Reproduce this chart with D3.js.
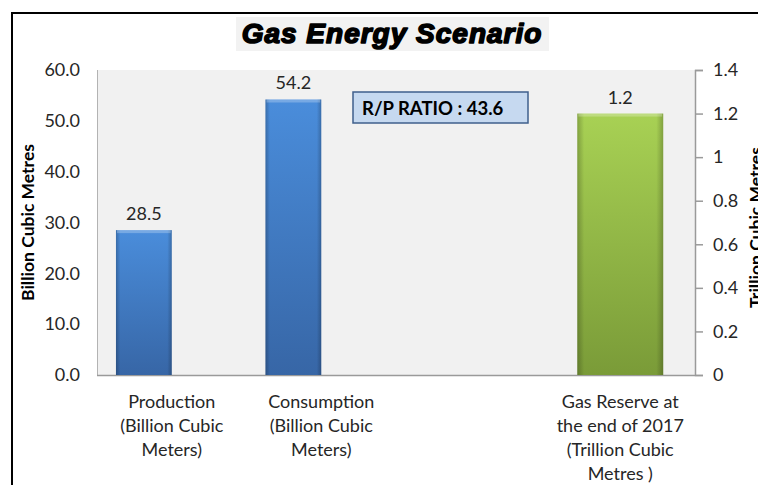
<!DOCTYPE html>
<html>
<head>
<meta charset="utf-8">
<script src="https://cdn.jsdelivr.net/npm/d3@7"></script>
<style>
  html, body { margin: 0; padding: 0; background: #fff; }
  svg { display: block; font-family: Lato, 'Open Sans', sans-serif; }
</style>
</head>
<body>
<div id="chart"></div>
<script>
// data
const categories = ['Production', 'Consumption', 'blank', 'Reserve'];
const categoryLabels = [
  ['Production', '(Billion Cubic', 'Meters)'],
  ['Consumption', '(Billion Cubic', 'Meters)'],
  [],
  ['Gas Reserve at', 'the end of 2017', '(Trillion Cubic', 'Metres )']
];
const primaryValues = [
  { category: 'Production', value: 28.5 },
  { category: 'Consumption', value: 54.2 }
];
const secondaryValues = [
  { category: 'Reserve', value: 1.2 }
];
const leftTicks = [0, 10, 20, 30, 40, 50, 60];
const rightTicks = [0, 0.2, 0.4, 0.6, 0.8, 1, 1.2, 1.4];
const ratioText = 'R/P RATIO : 43.6';

const W = 758, H = 485;
const PLOT = { left: 97, right: 695, top: 70, bottom: 375 };

const svg = d3.select('#chart').append('svg')
  .attr('width', W).attr('height', H);

const defs = svg.append('defs');
function barGradient(id, top, bottom) {
  const g = defs.append('linearGradient').attr('id', id)
    .attr('x1', 0).attr('y1', 0).attr('x2', 0).attr('y2', 1);
  g.append('stop').attr('offset', '0%').attr('stop-color', top);
  g.append('stop').attr('offset', '100%').attr('stop-color', bottom);
}
barGradient('blueGrad', '#4a8ddb', '#3766a6');
barGradient('greenGrad', '#a8d154', '#7a9b38');
// side shading for the bevelled look
const side = defs.append('linearGradient').attr('id', 'sideShade')
  .attr('x1', 0).attr('y1', 0).attr('x2', 1).attr('y2', 0);
side.append('stop').attr('offset', '0%').attr('stop-color', '#000').attr('stop-opacity', 0.22);
side.append('stop').attr('offset', '8%').attr('stop-color', '#000').attr('stop-opacity', 0);
side.append('stop').attr('offset', '92%').attr('stop-color', '#000').attr('stop-opacity', 0);
side.append('stop').attr('offset', '100%').attr('stop-color', '#000').attr('stop-opacity', 0.22);

// outer frame
svg.append('path')
  .attr('d', `M12,${H} L12,13 L${W},13`)
  .attr('fill', 'none').attr('stroke', '#000').attr('stroke-width', 2);

// title
svg.append('rect').attr('x', 236).attr('y', 17).attr('width', 313).attr('height', 34)
  .attr('fill', '#f2f2f2');
svg.append('text')
  .attr('x', 392).attr('y', 43)
  .attr('text-anchor', 'middle')
  .style('font-family', "'Liberation Sans', Arial, sans-serif")
  .style('font-weight', 'bold').style('font-style', 'italic')
  .style('font-size', '28px')
  .style('letter-spacing', '1px')
  .attr('stroke', '#000').attr('stroke-width', 1.6)
  .attr('stroke-linejoin', 'round')
  .attr('fill', '#000')
  .text('Gas Energy Scenario');

// scales
const x0 = d3.scaleBand().domain(categories).range([PLOT.left, PLOT.right]).padding(0);
const xPrimary = d3.scaleBand().domain([0, 1]).range([0, x0.bandwidth()])
  .paddingInner(0).paddingOuter(0.34);
const xSecondary = d3.scaleBand().domain([0]).range([0, x0.bandwidth()])
  .paddingInner(0).paddingOuter(0.37);
const yLeft = d3.scaleLinear().domain([0, 60]).range([PLOT.bottom, PLOT.top]);
const yRight = d3.scaleLinear().domain([0, 1.4]).range([PLOT.bottom, PLOT.top]);

// plot area
svg.append('rect')
  .attr('x', PLOT.left).attr('y', PLOT.top)
  .attr('width', PLOT.right - PLOT.left).attr('height', PLOT.bottom - PLOT.top)
  .attr('fill', '#f1f1f1');
svg.append('line')
  .attr('x1', PLOT.left + 0.5).attr('x2', PLOT.left + 0.5)
  .attr('y1', PLOT.top).attr('y2', PLOT.bottom)
  .attr('stroke', '#b3b3b3');

// left axis (labels only)
const leftAxis = svg.append('g')
  .attr('transform', `translate(${PLOT.left},0)`)
  .call(d3.axisLeft(yLeft).tickValues(leftTicks).tickFormat(d3.format('.1f'))
    .tickSize(0).tickPadding(17));
leftAxis.select('.domain').remove();
leftAxis.selectAll('text')
  .style('font-family', 'Lato, sans-serif').style('font-size', '18px')
  .attr('fill', '#262626');

// right axis
const rightAxis = svg.append('g')
  .attr('transform', `translate(${PLOT.right},0)`)
  .call(d3.axisRight(yRight).tickValues(rightTicks)
    .tickFormat((d) => String(+d.toFixed(1)))
    .tickSizeInner(8).tickSizeOuter(8).tickPadding(10));
rightAxis.selectAll('path,line').attr('stroke', '#9a9a9a').attr('stroke-width', 1.5);
rightAxis.selectAll('text')
  .style('font-family', 'Lato, sans-serif').style('font-size', '18px')
  .attr('fill', '#262626');

// bottom axis line
svg.append('line')
  .attr('x1', PLOT.left).attr('x2', PLOT.right)
  .attr('y1', PLOT.bottom + 0.5).attr('y2', PLOT.bottom + 0.5)
  .attr('stroke', '#9a9a9a').attr('stroke-width', 1.5);

// axis titles
svg.append('text')
  .attr('transform', `translate(34,${(PLOT.top + PLOT.bottom) / 2}) rotate(-90)`)
  .attr('text-anchor', 'middle')
  .style('font-family', 'Lato, sans-serif').style('font-weight', 'bold').style('font-size', '17.5px')
  .attr('fill', '#000')
  .text('Billion Cubic Metres');
svg.append('text')
  .attr('transform', `translate(762,${(PLOT.top + PLOT.bottom) / 2 + 5}) rotate(-90)`)
  .attr('text-anchor', 'middle')
  .style('font-family', 'Lato, sans-serif').style('font-weight', 'bold').style('font-size', '17.5px')
  .attr('fill', '#000')
  .text('Trillion Cubic Metres');

// bars
function drawBars(data, xSub, yScale, fill) {
  const g = svg.append('g');
  const bars = g.selectAll('g').data(data).join('g')
    .attr('transform', (d) => `translate(${x0(d.category) + xSub(0)},0)`);
  bars.append('rect')
    .attr('x', 0).attr('width', xSub.bandwidth())
    .attr('y', (d) => yScale(d.value))
    .attr('height', (d) => yScale(0) - yScale(d.value))
    .attr('fill', fill);
  bars.append('rect')
    .attr('x', 0).attr('width', xSub.bandwidth())
    .attr('y', (d) => yScale(d.value))
    .attr('height', (d) => yScale(0) - yScale(d.value))
    .attr('fill', 'url(#sideShade)');
  bars.append('rect')
    .attr('x', 1).attr('width', xSub.bandwidth() - 2)
    .attr('y', (d) => yScale(d.value)).attr('height', 3)
    .attr('fill', '#fff').attr('opacity', 0.25);
  bars.append('text')
    .attr('x', xSub.bandwidth() / 2)
    .attr('y', (d) => yScale(d.value) - 10)
    .attr('text-anchor', 'middle')
    .style('font-family', 'Lato, sans-serif').style('font-size', '18px')
    .attr('fill', '#262626')
    .text((d) => d.value);
}
drawBars(primaryValues, xPrimary, yLeft, 'url(#blueGrad)');
drawBars(secondaryValues, xSecondary, yRight, 'url(#greenGrad)');

// category labels
const labels = svg.append('g');
labels.selectAll('text').data(categories).join('text')
  .attr('text-anchor', 'middle')
  .style('font-family', 'Lato, sans-serif').style('font-size', '18px')
  .attr('fill', '#262626')
  .each(function (d, i) {
    d3.select(this).selectAll('tspan').data(categoryLabels[i]).join('tspan')
      .attr('x', x0(d) + x0.bandwidth() / 2)
      .attr('y', (line, j) => 408 + j * 24)
      .text((line) => line);
  });

// R/P ratio box
svg.append('rect')
  .attr('x', 353).attr('y', 92).attr('width', 175).attr('height', 31)
  .attr('fill', '#c6d9f0').attr('stroke', '#3f5f8c').attr('stroke-width', 1.5);
svg.append('text')
  .attr('x', 362).attr('y', 115)
  .style('font-family', 'Lato, sans-serif').style('font-weight', 'bold').style('font-size', '18.5px')
  .attr('fill', '#000')
  .text(ratioText);
</script>
</body>
</html>
